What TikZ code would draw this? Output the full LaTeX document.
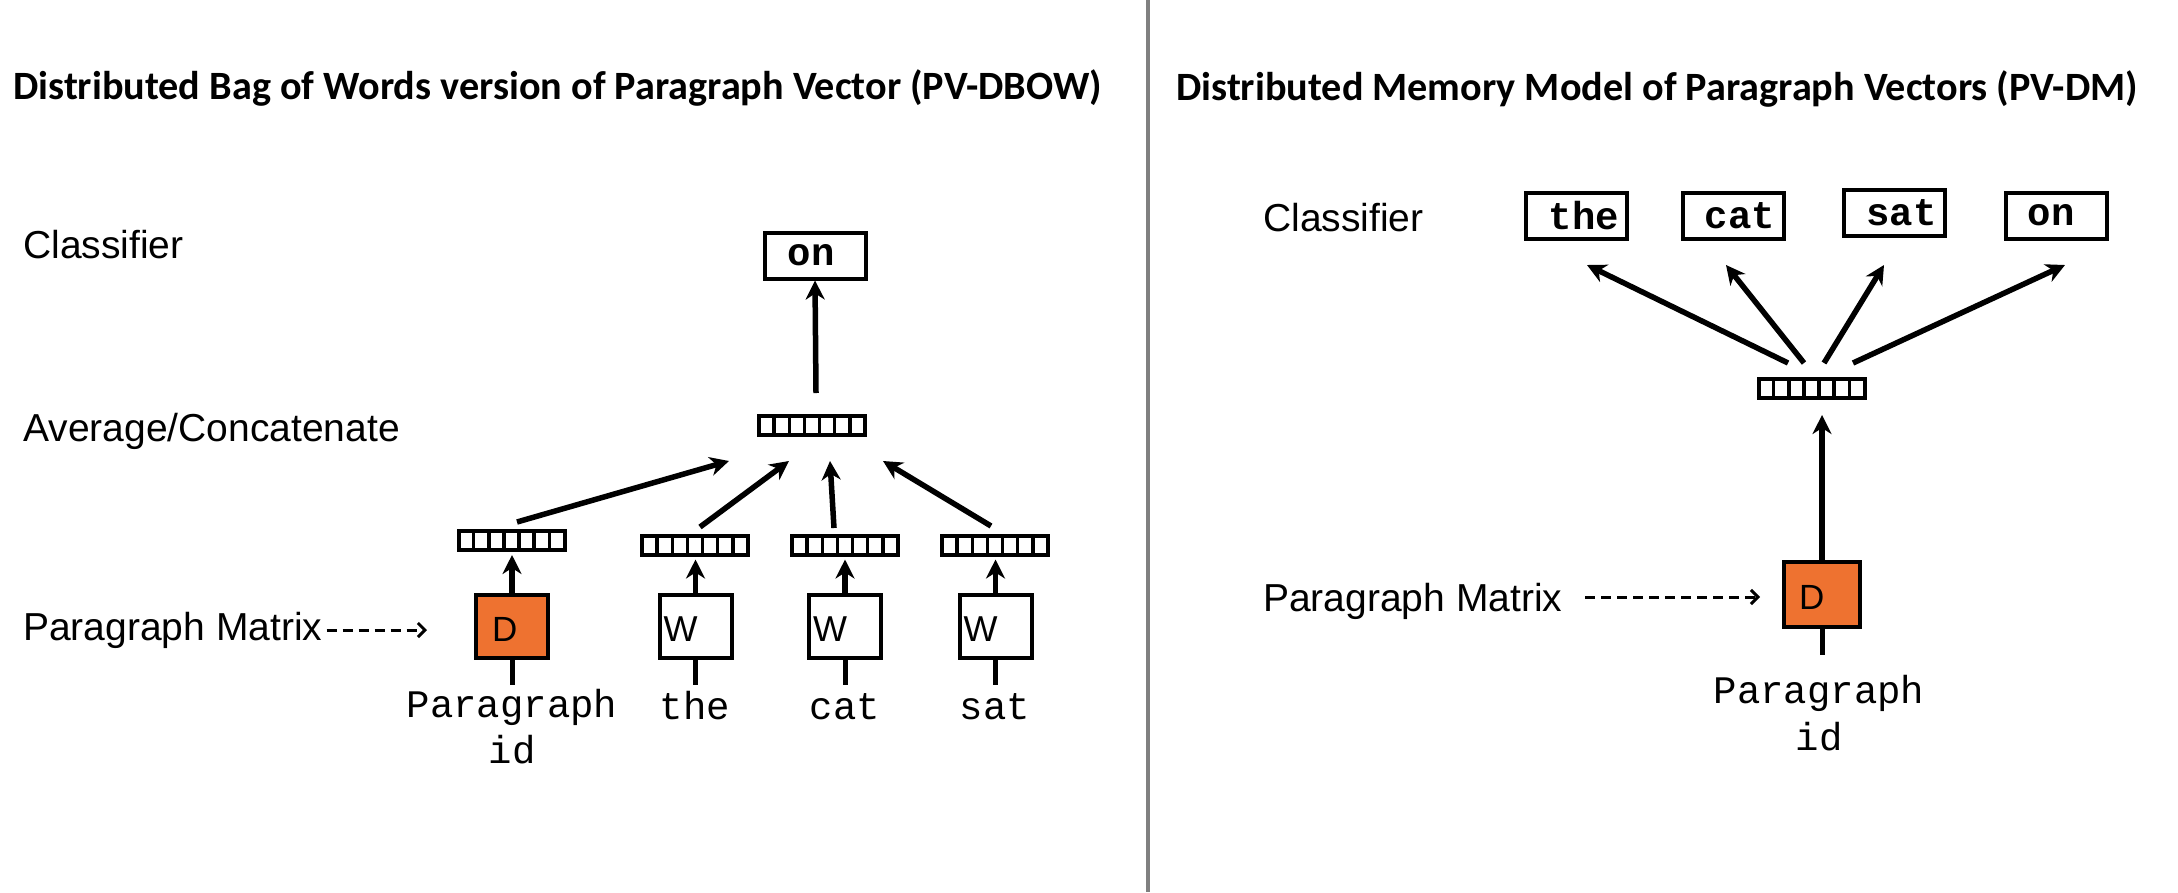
\documentclass[tikz,border=0pt]{standalone}
\usepackage{fontspec}
\setmainfont{Liberation Sans}
\newfontfamily\titlefont{Carlito}
\newfontfamily\cour{Liberation Mono}
\usetikzlibrary{arrows.meta,calc}
\definecolor{dorange}{RGB}{238,114,48}
\definecolor{divgray}{RGB}{128,128,128}
\begin{document}
\begin{tikzpicture}[x=1pt,y=-1pt,
  title/.style={anchor=base west,inner sep=0pt,font=\titlefont\bfseries\fontsize{40.2}{48}\selectfont},
  lbl/.style={anchor=base west,inner sep=0pt,font=\fontsize{39}{47}\selectfont},
  mono/.style={anchor=base,inner sep=0pt,font=\cour\fontsize{39}{47}\selectfont},
  wordbox/.style={draw,line width=4pt,inner sep=0pt,minimum width=101pt,minimum height=46pt,font=\cour\bfseries\fontsize{39}{47}\selectfont},
  vecbox/.style={draw,line width=4pt,inner sep=0pt,minimum width=106pt,minimum height=19pt,
    path picture={\foreach \i in {1,...,6}{\draw[line width=3.5pt]
      ($(path picture bounding box.south west)!\i/7!(path picture bounding box.south east)$) --
      ($(path picture bounding box.north west)!\i/7!(path picture bounding box.north east)$);}}},
  wbox/.style={draw,line width=4pt,inner sep=0pt,minimum width=72pt,minimum height=63pt},
  dbox/.style={wbox,fill=dorange},
  letter/.style={anchor=west,inner sep=0pt,font=\fontsize{36}{43}\selectfont},
  arr/.style={line width=5.5pt,-{Stealth[length=19pt,width=19pt,inset=6pt]}},
  stem/.style={line width=5pt},
  dasharr/.style={line width=3pt,dash pattern=on 10pt off 6pt,-{Straight Barb[length=7pt,width=14pt,line width=3pt]}}
]
\useasboundingbox (0,0) rectangle (2178,892);
\fill[white] (0,0) rectangle (2178,892);

% divider
\draw[divgray,line width=4pt] (1148,0) -- (1148,892);

% titles
\node[title] (tL) at (13,99) {Distributed Bag of Words version of Paragraph Vector (PV-DBOW)};
\node[title] (tR) at (1176,100) {Distributed Memory Model of Paragraph Vectors (PV-DM)};

% ---------------- left panel ----------------
\node[lbl] (clsL) at (23,258) {Classifier};
\node[lbl] (avgL) at (23,441) {Average/Concatenate};
\node[lbl] (pmL) at (23,640) {Paragraph Matrix};

\node[wordbox] (onL) at (815,255.5) {on\hspace*{8pt}};
\node[vecbox] (topL) at (812,425) {};

\node[vecbox] (v1) at (511.5,540.5) {};
\node[vecbox] (v2) at (695,545) {};
\node[vecbox] (v3) at (845,545) {};
\node[vecbox] (v4) at (995,545) {};

\node[dbox] (D) at (512,626.5) {};
\node[wbox] (W1) at (695.5,626.5) {};
\node[wbox] (W2) at (845,626.5) {};
\node[wbox] (W3) at (995.5,626.5) {};
\node[letter,font=\fontsize{35}{42}\selectfont] (Dl) at ([xshift=18pt,yshift=-3pt]D.west) {D};
\node[letter] (W1l) at ([xshift=6pt,yshift=-3pt]W1.west) {W};
\node[letter] (W2l) at ([xshift=6pt,yshift=-3pt]W2.west) {W};
\node[letter] (W3l) at ([xshift=6pt,yshift=-3pt]W3.west) {W};

\foreach \b in {D,W1,W2,W3}{\draw[stem] (\b.south) -- ++(0,25);}
\draw[arr,shorten >=3pt] (D.north) -- (D.north |- v1.south);
\draw[arr,shorten >=3pt] (W1.north) -- (W1.north |- v2.south);
\draw[arr,shorten >=3pt] (W2.north) -- (W2.north |- v3.south);
\draw[arr,shorten >=3pt] (W3.north) -- (W3.north |- v4.south);

\node[mono] (pidL) at (512,717) {Paragraph};
\node[mono] (idL) at (512,763) {id};
\node[mono] (theL) at (695,719) {the};
\node[mono] (catL) at (845,719) {cat};
\node[mono] (satL) at (995,719) {sat};

\coordinate (s1) at (517,522); \coordinate (e1) at (729,461);
\coordinate (s2) at (700,527); \coordinate (e2) at (789,461);
\coordinate (s3) at (834,528); \coordinate (e3) at (830,461);
\coordinate (s4) at (991,526); \coordinate (e4) at (883,461);
\draw[arr] (s1) -- (e1);
\draw[arr] (s2) -- (e2);
\draw[arr] (s3) -- (e3);
\draw[arr] (s4) -- (e4);

\coordinate (sTop) at (816,393);
\draw[arr] (sTop) -- (onL.south);

\coordinate (pmLend) at (427,630);
\draw[dasharr] ([xshift=4pt]pmL.east |- 0,630) -- (pmLend);

% ---------------- right panel ----------------
\node[lbl] (clsR) at (1263,231) {Classifier};
\node[lbl] (pmR) at (1263,611) {Paragraph Matrix};

\node[wordbox] (theR) at (1576,215.5) {\hspace*{16pt}the};
\node[wordbox] (catR) at (1733,215.5) {\hspace*{14pt}cat};
\node[wordbox] (satR) at (1894.5,213) {\hspace*{14pt}sat};
\node[wordbox] (onR) at (2056,215.5) {on\hspace*{10pt}};

\node[vecbox] (vR) at (1811.5,388.5) {};
\node[dbox,minimum width=76pt,minimum height=65pt] (DR) at (1822,594.5) {};
\node[letter,font=\fontsize{35}{42}\selectfont] (DRl) at ([xshift=17pt,yshift=-3pt]DR.west) {D};
\draw[stem] (DR.south) -- ++(0,26);
\draw[arr,shorten >=15pt] (DR.north) -- (DR.north |- vR.south);

\node[mono] (pidR) at (1819,703) {Paragraph};
\node[mono] (idR) at (1819,750) {id};

\coordinate (r1s) at (1788,363); \coordinate (r1e) at (1587,265);
\coordinate (r2s) at (1804,363); \coordinate (r2e) at (1726,265);
\coordinate (r3s) at (1824,363); \coordinate (r3e) at (1884,265);
\coordinate (r4s) at (1853,363); \coordinate (r4e) at (2065,265);
\draw[arr] (r1s) -- (r1e);
\draw[arr] (r2s) -- (r2e);
\draw[arr] (r3s) -- (r3e);
\draw[arr] (r4s) -- (r4e);

\coordinate (pmRend) at (1760,597);
\draw[dasharr] (1585,597) -- (pmRend);
\end{tikzpicture}
\end{document}
